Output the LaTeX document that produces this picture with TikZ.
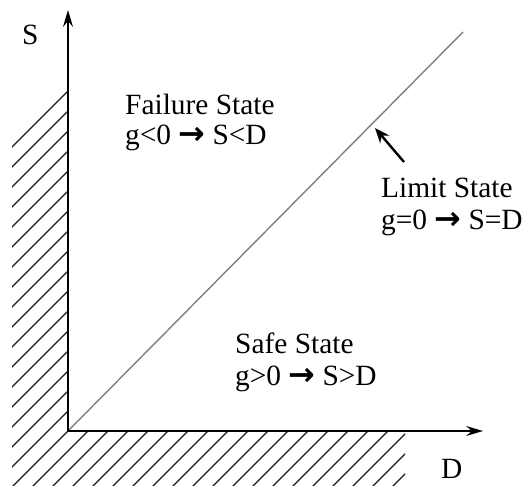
\documentclass[tikz,border=0pt]{standalone}
\usepackage{fontspec}
\setmainfont{Liberation Serif}
\newfontfamily\arrowfont{DejaVu Sans}
\usetikzlibrary{arrows.meta}
\tikzset{
  lbl/.style={anchor=base west, inner sep=0pt, font=\fontsize{29.5}{31}\selectfont},
  axis/.style={line width=1.7bp, -{Stealth[length=17bp, width=10bp, inset=6bp]}},
  hatch/.style={line width=1.3bp, black!90},
  limit/.style={line width=1.4bp, black!50},
  pointer/.style={line width=2.4bp, -{Stealth[length=15bp, width=12bp]}}
}
\newcommand{\thickarrow}{{\arrowfont\bfseries\fontsize{32}{31}\selectfont →}}
\begin{document}
\begin{tikzpicture}[x=1bp, y=-1bp]
\useasboundingbox (0,0) rectangle (530,486);
% hatching
\begin{scope}
  \clip (12,89) rectangle (68,490) (12,431) rectangle (405,490);
  \foreach \c in {159,179,...,919} {
    \draw[hatch] (0,\c) -- (\c,0);
  }
\end{scope}
\coordinate (O) at (68,431);
\coordinate (Stop) at (68,10);
\coordinate (Dend) at (483,431);
\coordinate (Ltop) at (463,32);
\draw[limit] (O) -- (Ltop);
\draw[axis] (O) -- (Stop);
\draw[axis] (O) -- (Dend);
\node[lbl] (S) at (22,45) {S};
\node[lbl] (D) at (441,478) {D};
\node[lbl] (f1) at (125,115) {Failure State};
\node[lbl] (f2) at (125,145) {g<0 \thickarrow{} S<D};
\node[lbl] (l1) at (381,198) {Limit State};
\node[lbl] (l2) at (381,229) {g=0 \thickarrow{} S=D};
\node[lbl] (s1) at (235,353) {Safe State};
\node[lbl] (s2) at (235,385) {g>0 \thickarrow{} S>D};
\coordinate (ptail) at (404,162);
\coordinate (phead) at (375,128);
\draw[pointer] (ptail) -- (phead);
\end{tikzpicture}
\end{document}
